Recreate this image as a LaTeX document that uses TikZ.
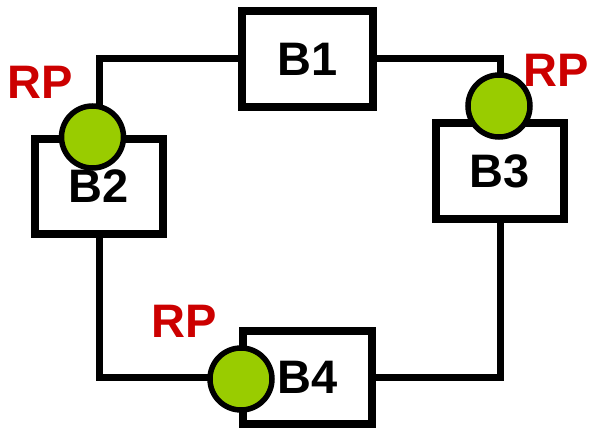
\documentclass[tikz,border=0pt]{standalone}
\usepackage{fontspec}
\setmainfont{Liberation Sans}
\definecolor{rpgreen}{HTML}{99CC00}
\definecolor{rpred}{HTML}{CC0000}
\begin{document}
\begin{tikzpicture}[x=1pt,y=-1pt,
  blk/.style={draw=black,line width=7.5pt,rectangle,inner sep=0pt,outer sep=0pt,fill=white,
    font=\fontsize{47}{50}\selectfont\bfseries},
  conn/.style={draw=black,line width=7pt},
  rpdot/.style={circle,draw=black,line width=5.5pt,fill=rpgreen,minimum size=62pt,inner sep=0pt,outer sep=0pt},
  rplab/.style={text=rpred,inner sep=0pt,font=\fontsize{47}{50}\selectfont\bfseries}]
\useasboundingbox (0,0) rectangle (590,428);
\node[blk,minimum width=131pt,minimum height=96pt] (B1) at (307.5,59) {B1};
\node[blk,minimum width=128pt,minimum height=95pt] (B2) at (99,186.5) {B2};
\node[blk,minimum width=128pt,minimum height=96pt] (B3) at (500,171) {B3};
\node[blk,minimum width=129pt,minimum height=93pt] (B4) at (307.5,377.5) {B4};
\draw[conn] (B1.west) -| (B2.north);
\draw[conn] (B1.east) -| (B3.north);
\draw[conn] (B2.south) |- (B4.west);
\draw[conn] (B3.south) |- (B4.east);
\node[rpdot] (rp2) at (92.5,137) {};
\node[rpdot] (rp3) at (499,106) {};
\node[rpdot] (rp4) at (241,379) {};
\node[rplab] (l2) at (40,82) {RP};
\node[rplab] (l3) at (556,70) {RP};
\node[rplab] (l4) at (184,321) {RP};
\end{tikzpicture}
\end{document}
